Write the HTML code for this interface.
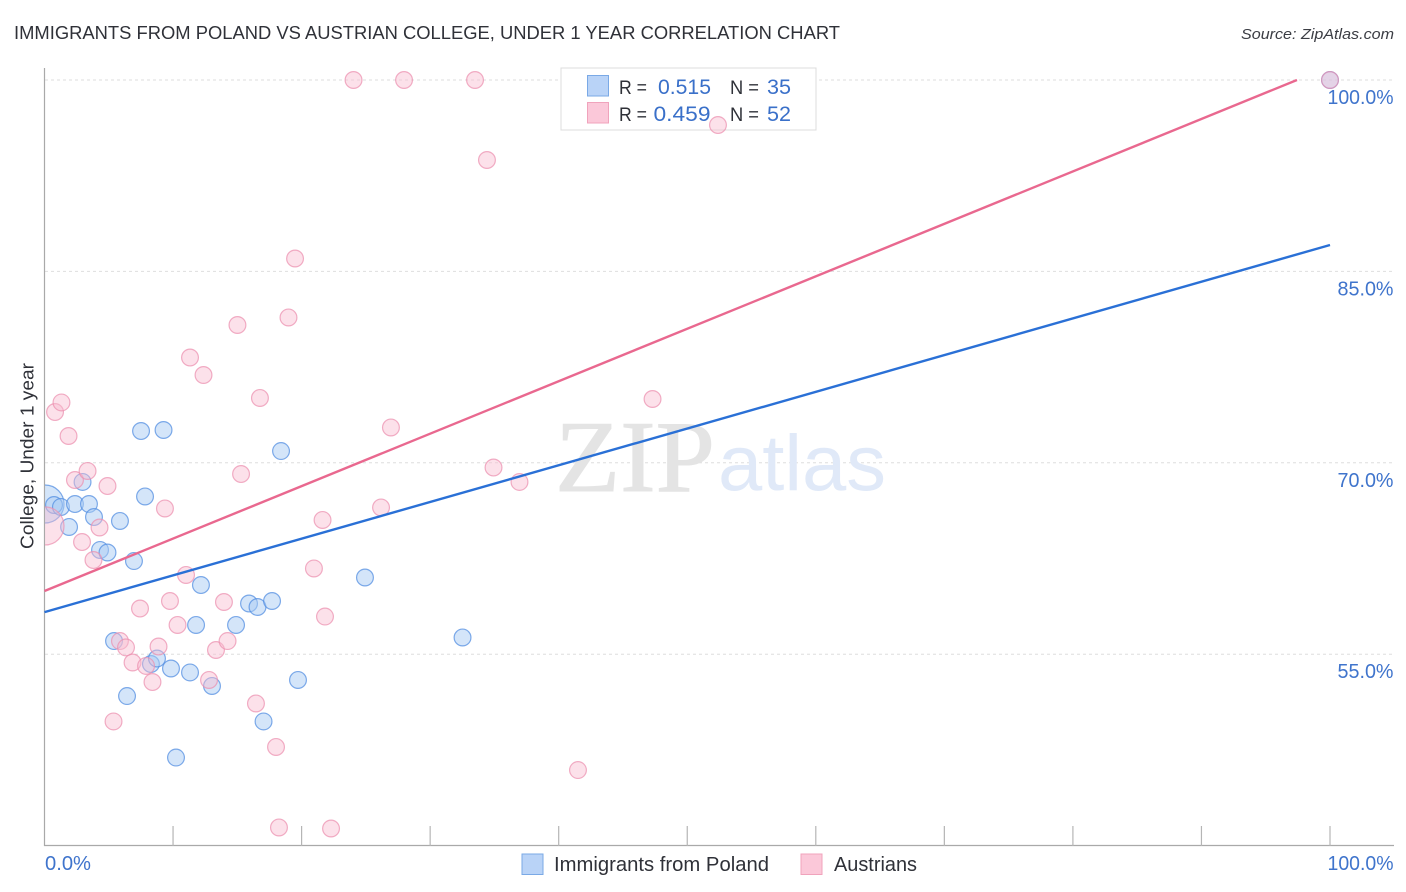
<!DOCTYPE html>
<html lang="en">
<head>
<meta charset="utf-8">
<title>Immigrants from Poland vs Austrian College, Under 1 Year Correlation Chart</title>
<style>
html,body{margin:0;padding:0;background:#fff;width:1406px;height:892px;overflow:hidden}
svg{display:block}
text{font-family:"Liberation Sans",sans-serif}
</style>
</head>
<body>
<svg id="chart" xmlns="http://www.w3.org/2000/svg" width="1406" height="892" viewBox="0 0 1406 892">
  <defs>
    <clipPath id="plot-clip"><rect x="45" y="60" width="1361" height="786"/></clipPath>
  </defs>
  <rect x="0" y="0" width="1406" height="892" fill="#fff"/>
  <text x="14" y="39" font-size="18.5" fill="#2f3138" textLength="826" lengthAdjust="spacingAndGlyphs">IMMIGRANTS FROM POLAND VS AUSTRIAN COLLEGE, UNDER 1 YEAR CORRELATION CHART</text>
  <text x="1241" y="39" font-size="15" font-style="italic" fill="#3b3d44" textLength="153" lengthAdjust="spacingAndGlyphs">Source: ZipAtlas.com</text>

  <g id="grid"></g>

  <g>
    <text x="555" y="491" font-size="102" fill="#e4e4e4" stroke="#e4e4e4" stroke-width="1" textLength="160" lengthAdjust="spacingAndGlyphs" style="font-family:'Liberation Serif',serif">ZIP</text>
    <text x="718" y="490" font-size="79" fill="#e0e9f8" textLength="168" lengthAdjust="spacingAndGlyphs">atlas</text>
  </g>

  <g>
    <rect x="561" y="68" width="255" height="62" fill="#fff" stroke="#dcdcdc" stroke-width="1"/>
    <rect x="587.5" y="75.5" width="21" height="20.5" fill="#b9d3f7" stroke="#7aa9e6" stroke-width="1"/>
    <rect x="587.5" y="102.5" width="21" height="20.5" fill="#fbc8d9" stroke="#f0a3bc" stroke-width="1"/>
    <text x="619" y="94" font-size="19.5" fill="#2f3138" textLength="28" lengthAdjust="spacingAndGlyphs">R =</text>
    <text x="658" y="94" font-size="21" fill="#3a70c9" textLength="53" lengthAdjust="spacingAndGlyphs">0.515</text>
    <text x="730" y="94" font-size="19.5" fill="#2f3138" textLength="29" lengthAdjust="spacingAndGlyphs">N =</text>
    <text x="767" y="94" font-size="21" fill="#3a70c9" textLength="24" lengthAdjust="spacingAndGlyphs">35</text>
    <text x="619" y="121" font-size="19.5" fill="#2f3138" textLength="28" lengthAdjust="spacingAndGlyphs">R =</text>
    <text x="653.5" y="121" font-size="21" fill="#3a70c9" textLength="57" lengthAdjust="spacingAndGlyphs">0.459</text>
    <text x="730" y="121" font-size="19.5" fill="#2f3138" textLength="29" lengthAdjust="spacingAndGlyphs">N =</text>
    <text x="767" y="121" font-size="21" fill="#3a70c9" textLength="24" lengthAdjust="spacingAndGlyphs">52</text>
  </g>

  <g id="axes"></g>
  <g id="ticklabels"></g>
  <g id="points" clip-path="url(#plot-clip)"></g>
  <g id="trends"></g>

  <text x="0" y="0" transform="translate(33.5,456) rotate(-90)" text-anchor="middle" font-size="18.5" fill="#2f3138" textLength="186" lengthAdjust="spacingAndGlyphs">College, Under 1 year</text>

  <g>
    <rect x="522" y="854" width="21" height="20.5" fill="#b9d3f7" stroke="#7aa9e6" stroke-width="1"/>
    <text x="554" y="871" font-size="20" fill="#2f3138" textLength="215" lengthAdjust="spacingAndGlyphs">Immigrants from Poland</text>
    <rect x="801" y="854" width="21" height="20.5" fill="#fbc8d9" stroke="#f0a3bc" stroke-width="1"/>
    <text x="834" y="871" font-size="20" fill="#2f3138" textLength="83" lengthAdjust="spacingAndGlyphs">Austrians</text>
  </g>
</svg>

<script>
// ----- Chart data (values in percent) -----
const polandX = [0.04,0.74,1.28,1.91,2.37,2.96,3.46,3.85,4.32,4.90,5.87,6.96,7.82,7.51,9.26,18.40,12.17,15.91,16.57,17.70,11.79,14.90,5.41,8.28,8.75,9.84,11.32,13.03,19.72,6.42,17.04,10.23,24.93,32.52,100];
const polandY = [66.77,66.69,66.54,64.97,66.77,68.50,66.77,65.75,63.17,62.97,65.44,62.30,67.36,72.49,72.57,70.92,60.42,58.97,58.70,59.17,57.29,57.29,56.03,54.23,54.66,53.88,53.57,52.51,52.98,51.72,49.73,46.90,61.01,56.31,100];
const austriansX = [0.04,0.82,1.32,1.87,2.37,3.35,2.92,4.28,3.81,4.90,9.37,15.29,11.01,21.63,20.96,21.82,9.76,7.43,13.96,16.76,10.35,5.87,6.34,8.87,6.85,7.90,8.40,12.80,13.34,14.24,5.37,16.45,18.01,41.50,18.24,22.29,24.04,27.97,33.49,34.42,52.39,19.49,15.01,18.98,11.32,12.37,47.30,26.95,34.93,36.95,26.18,100];
const austriansY = [65.05,73.98,74.73,72.10,68.65,69.36,63.79,64.93,62.38,68.18,66.42,69.12,61.21,65.52,61.72,57.95,59.17,58.58,59.09,75.08,57.29,56.03,55.53,55.60,54.35,54.08,52.82,52.98,55.33,56.03,49.73,51.14,47.73,45.92,41.42,41.34,100,100,100,93.73,96.47,86.01,80.80,81.39,78.25,76.88,75.00,72.77,69.63,68.50,66.50,100];
const polandTrendX = [0,100];
const polandTrendY = [58.3,87.07];
const austriansTrendX = [0,97.43];
const austriansTrendY = [59.95,100];
const yTicks = [100,85,70,55];
const yTickLabels = ["100.0%","85.0%","70.0%","55.0%"];
const xTicks = [10,20,30,40,50,60,70,80,90,100];
const xEndTicks = [0,100];
const xEndLabels = ["0.0%","100.0%"];
const clusterPointIndex = 0;

// ----- Axis functions -----
function xScale(v){ return 44.5 + v * 12.855; }
function yScale(v){ return 80 + (100 - v) * 12.76; }

const NS = 'http://www.w3.org/2000/svg';
function make(tag, attrs, parent){
  const el = document.createElementNS(NS, tag);
  for (const k in attrs) el.setAttribute(k, attrs[k]);
  parent.appendChild(el);
  return el;
}
function labelWidth(s){ return s.length * 10 + 6; }

const gridG = document.getElementById('grid');
yTicks.forEach(function(t){
  const l = make('line', {x1:45, x2:1394, y1:yScale(t), y2:yScale(t), stroke:'#dedede', 'stroke-width':1, 'stroke-dasharray':'3 3'}, gridG);
  
  
});

const axesG = document.getElementById('axes');
const yAxis = make('line', {x1:44.5, x2:44.5, y1:68, y2:846, stroke:'#a9a9a9', 'stroke-width':1.2}, axesG);


const xAxis = make('line', {x1:44, x2:1394, y1:845.5, y2:845.5, stroke:'#a9a9a9', 'stroke-width':1.2}, axesG);


xTicks.forEach(function(t){
  const l = make('line', {x1:xScale(t), x2:xScale(t), y1:826, y2:846, stroke:'#b5b5b5', 'stroke-width':1.2}, axesG);
  
  
});

const labelsG = document.getElementById('ticklabels');
yTicks.forEach(function(t, i){
  const el = make('text', {x:1393.5, y:yScale(t) + 24, 'text-anchor':'end', 'font-size':20, fill:'#3f74cc', textLength:labelWidth(yTickLabels[i]), lengthAdjust:'spacingAndGlyphs'}, labelsG);
  
  
  el.textContent = yTickLabels[i];
});
xEndTicks.forEach(function(t, i){
  const el = make('text', {x: i === 0 ? 45 : 1393.5, y:870, 'text-anchor': i === 0 ? 'start' : 'end', 'font-size':20, fill:'#3f74cc', textLength:labelWidth(xEndLabels[i]), lengthAdjust:'spacingAndGlyphs'}, labelsG);
  
  
  el.textContent = xEndLabels[i];
});

const pointsG = document.getElementById('points');
function drawSeries(xs, ys, fill, stroke, fillOpacity, strokeOpacity, name){
  xs.forEach(function(x, i){
    const c = make('circle', {
      cx: xScale(x), cy: yScale(ys[i]),
      r: i === clusterPointIndex ? 19 : 8.4,
      fill: fill, 'fill-opacity': fillOpacity,
      stroke: stroke, 'stroke-opacity': strokeOpacity, 'stroke-width': 1.2
    }, pointsG);
    
    
  });
}
drawSeries(polandX, polandY, '#a9ccf4', '#4d8ae0', 0.5, 0.72, 'poland-point');
drawSeries(austriansX, austriansY, '#f8bcd0', '#ec8fae', 0.45, 0.72, 'austrians-point');

const trendG = document.getElementById('trends');
const trendPoland = make('line', {
  x1:xScale(polandTrendX[0]), y1:yScale(polandTrendY[0]),
  x2:xScale(polandTrendX[1]), y2:yScale(polandTrendY[1]),
  stroke:'#2a70d6', 'stroke-width':2.4
}, trendG);


const trendAustrians = make('line', {
  x1:xScale(austriansTrendX[0]), y1:yScale(austriansTrendY[0]),
  x2:xScale(austriansTrendX[1]), y2:yScale(austriansTrendY[1]),
  stroke:'#e9688f', 'stroke-width':2.4
}, trendG);


</script>
</body>
</html>
